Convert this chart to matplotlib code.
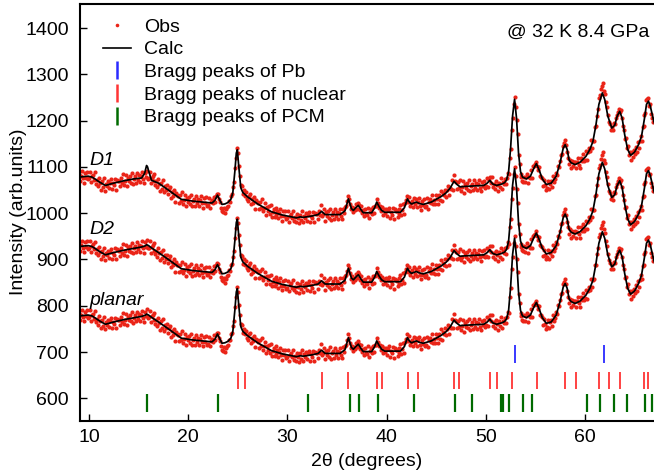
import numpy as np
import matplotlib
matplotlib.use("Agg")
import matplotlib.pyplot as plt
from matplotlib.lines import Line2D

plt.rcParams['font.family'] = ['Liberation Sans', 'DejaVu Sans']
plt.rcParams['font.size'] = 14

# ---------------- data ----------------
# observed pattern (same data for all three models, shown with vertical offsets)
obs_start = 9.0
obs_step = 0.1
obs = [
    784, 769, 781, 791, 775, 766, 787, 777, 790, 773,
    775, 790, 767, 780, 783, 772, 788, 764, 772, 759,
    777, 766, 751, 769, 757, 775, 749, 764, 759, 769,
    754, 766, 773, 752, 765, 760, 774, 751, 772, 770,
    769, 758, 775, 765, 784, 760, 769, 782, 758, 776,
    769, 780, 766, 786, 763, 774, 780, 766, 787, 772,
    782, 767, 780, 789, 774, 765, 787, 778, 792, 774,
    775, 789, 765, 777, 781, 769, 785, 761, 769, 756,
    774, 763, 748, 766, 753, 771, 745, 759, 751, 760,
    742, 752, 757, 733, 745, 737, 750, 724, 744, 739,
    737, 723, 739, 726, 745, 720, 728, 740, 715, 733,
    725, 735, 720, 740, 715, 726, 731, 716, 737, 721,
    731, 716, 728, 737, 721, 712, 732, 722, 734, 716,
    718, 733, 712, 724, 728, 721, 736, 725, 737, 742,
    741, 730, 724, 712, 705, 703, 711, 700, 708, 714,
    716, 727, 725, 738, 741, 756, 768, 797, 819, 840,
    829, 802, 781, 760, 758, 741, 750, 738, 746, 731,
    727, 738, 742, 719, 730, 723, 735, 710, 729, 725,
    722, 709, 725, 712, 730, 705, 712, 722, 697, 714,
    705, 715, 698, 717, 692, 702, 708, 692, 712, 696,
    705, 689, 701, 709, 693, 683, 704, 693, 705, 687,
    689, 704, 681, 694, 699, 689, 705, 683, 691, 680,
    699, 690, 678, 697, 686, 704, 680, 695, 690, 700,
    684, 697, 703, 681, 695, 689, 703, 680, 701, 699,
    699, 687, 704, 697, 717, 694, 699, 709, 684, 702,
    694, 705, 690, 710, 686, 697, 703, 688, 709, 693,
    703, 688, 700, 709, 694, 687, 710, 701, 714, 716,
    726, 738, 731, 720, 708, 714, 702, 711, 706, 719,
    710, 723, 718, 706, 715, 700, 706, 693, 708, 699,
    696, 712, 689, 703, 708, 698, 714, 700, 715, 716,
    731, 722, 712, 716, 705, 713, 697, 708, 700, 709,
    694, 706, 712, 690, 703, 697, 711, 687, 708, 705,
    704, 692, 709, 698, 717, 696, 706, 720, 699, 722,
    729, 738, 724, 734, 716, 722, 727, 713, 733, 719,
    730, 714, 725, 733, 716, 707, 727, 717, 730, 713,
    716, 733, 710, 725, 731, 721, 740, 720, 729, 719,
    739, 730, 719, 739, 729, 749, 727, 743, 739, 751,
    736, 750, 759, 739, 755, 753, 771, 751, 782, 770,
    767, 752, 767, 754, 772, 748, 756, 769, 744, 763,
    755, 766, 751, 771, 747, 758, 764, 750, 771, 755,
    765, 750, 762, 771, 755, 747, 768, 758, 770, 755,
    758, 775, 756, 771, 779, 766, 779, 756, 764, 752,
    769, 760, 747, 766, 756, 775, 752, 768, 763, 774,
    762, 776, 787, 784, 820, 838, 880, 905, 935, 950,
    930, 902, 872, 826, 806, 784, 778, 770, 768, 779,
    767, 778, 785, 765, 779, 775, 794, 775, 801, 802,
    806, 811, 801, 793, 799, 781, 779, 776, 758, 771,
    760, 750, 755, 770, 752, 764, 769, 757, 781, 768,
    774, 787, 783, 801, 799, 812, 826, 828, 846, 852,
    858, 847, 832, 820, 806, 815, 797, 812, 801, 810,
    811, 797, 810, 820, 805, 797, 820, 812, 827, 812,
    816, 834, 815, 832, 841, 835, 858, 841, 856, 857,
    887, 889, 911, 925, 948, 955, 968, 975, 982, 965,
    958, 940, 929, 912, 898, 893, 880, 887, 879, 895,
    893, 906, 912, 919, 925, 918, 922, 906, 889, 879,
    861, 863, 840, 846, 826, 832, 815, 832, 822, 837,
    827, 844, 832, 853, 841, 856, 866, 857, 886, 888,
    912, 917, 944, 946, 948, 932, 935, 915, 906, 897,
]

# calculated profiles (nodes)
calc_x = [
    9.0, 9.5, 9.9, 10.3, 10.6, 11.0, 11.65, 12.5, 13.5, 14.5,
    15.3, 15.6, 15.7, 15.8, 15.9, 16.0, 16.3, 17.0, 18.0, 19.3,
    20.5, 21.5, 22.4, 22.7, 22.95, 23.2, 23.4, 23.7, 24.0, 24.3,
    24.5, 24.7, 24.85, 24.95, 25.1, 25.3, 25.5, 26.0, 27.0, 28.4,
    29.5, 30.9, 31.3, 31.6, 32.5, 33.1, 33.45, 33.8, 35.3, 35.8,
    36.15, 36.45, 36.65, 36.9, 37.15, 37.4, 37.65, 38.5, 38.8, 39.0,
    39.25, 39.5, 39.8, 41.4, 41.8, 42.1, 42.3, 42.5, 43.0, 43.3,
    43.7, 44.5, 45.0, 45.5, 46.0, 46.4, 46.8, 47.1, 47.4, 48.0,
    49.0, 49.8, 50.15, 50.4, 50.7, 51.1, 51.6, 51.9, 52.1, 52.3,
    52.5, 52.7, 52.9, 53.1, 53.3, 53.5, 53.7, 54.1, 54.5, 54.8,
    55.1, 55.4, 55.7, 56.1, 56.6, 57.1, 57.5, 57.8, 58.0, 58.2,
    58.4, 58.6, 59.0, 59.5, 60.1, 60.5, 60.8, 61.1, 61.4, 61.75,
    62.0, 62.3, 62.7, 63.0, 63.25, 63.5, 63.75, 64.0, 64.3, 64.6,
    65.0, 65.4, 65.7, 66.0, 66.2, 66.4, 66.6, 66.9, 67.2,
]
calc_D2 = [
    778, 779, 780, 778, 774, 768, 760, 765, 770, 774,
    777, 779, 780, 782, 781, 780, 775, 765, 750, 730,
    726, 724, 722, 728, 739, 728, 719, 720, 723, 730,
    745, 790, 830, 837, 800, 755, 745, 735, 720, 703,
    696, 690, 692, 691, 694, 697, 704, 697, 697, 705,
    731, 710, 706, 712, 717, 708, 701, 701, 712, 724,
    714, 706, 702, 702, 712, 731, 724, 720, 724, 721,
    719, 724, 730, 736, 744, 754, 769, 762, 757, 758,
    759, 760, 765, 771, 763, 760, 763, 766, 772, 790,
    840, 910, 946, 905, 830, 790, 778, 774, 780, 795,
    807, 792, 774, 762, 765, 780, 810, 840, 848, 838,
    815, 809, 805, 810, 823, 838, 855, 890, 935, 960,
    945, 910, 884, 890, 910, 920, 905, 870, 838, 825,
    832, 848, 866, 905, 935, 942, 930, 902, 880,
]
calc_D1 = [
    778, 779, 780, 778, 774, 768, 760, 765, 770, 774,
    776, 786, 795, 803, 800, 792, 771, 765, 750, 730,
    726, 724, 722, 728, 739, 728, 719, 720, 723, 730,
    745, 790, 830, 837, 800, 755, 745, 735, 720, 703,
    696, 690, 692, 691, 694, 697, 704, 697, 697, 705,
    731, 710, 706, 712, 717, 708, 701, 701, 712, 724,
    714, 706, 702, 702, 712, 731, 724, 720, 724, 721,
    719, 724, 730, 736, 744, 754, 769, 762, 757, 758,
    759, 760, 765, 771, 763, 760, 763, 766, 772, 790,
    840, 910, 946, 905, 830, 790, 778, 774, 780, 795,
    807, 792, 774, 762, 765, 780, 810, 840, 848, 838,
    815, 809, 805, 810, 823, 838, 855, 890, 935, 960,
    945, 910, 884, 890, 910, 920, 905, 870, 838, 825,
    832, 848, 866, 905, 935, 942, 930, 902, 880,
]
calc_planar = calc_D2

models = ['D1', 'D2', 'planar']
offsets = [300, 150, 0]
label_y = [1104, 954, 801]

pb_peaks = [52.9, 61.88]
nuclear_peaks = [25.02, 25.69, 33.45, 36.1, 39.0, 39.57, 42.16, 43.13, 46.8, 47.3,
                 50.42, 51.1, 52.68, 55.16, 57.98, 59.1, 61.38, 62.39, 63.56, 65.98, 66.4]
pcm_peaks = [15.85, 22.97, 32.04, 36.28, 37.18, 39.1, 42.76, 46.93, 48.58, 51.56,
             51.72, 52.34, 53.75, 54.62, 60.17, 61.51, 62.92, 64.2, 66.05, 66.8]

legend_labels = ['Obs', 'Calc', 'Bragg peaks of Pb', 'Bragg peaks of nuclear', 'Bragg peaks of PCM']

# ---------------- style ----------------
RED = '#ea2418'
BLUE = '#2a2aff'
NRED = '#ff3434'
GREEN = '#006a00'

fig = plt.figure(figsize=(6.54, 4.75), dpi=100)
ax = fig.add_axes([80 / 654, 54 / 475, 576 / 654, 417 / 475])

obs_x = obs_start + obs_step * np.arange(len(obs))
obs_arr = np.array(obs, dtype=float)
calcs = [calc_D1, calc_D2, calc_planar]

for name, off, calc, ly in zip(models, offsets, calcs, label_y):
    ax.plot(obs_x, obs_arr + off, ls='none', marker='o', ms=3.0, mec='none',
            color=RED, zorder=2)
    ax.plot(calc_x, np.array(calc, dtype=float) + off, color='black', lw=1.25, zorder=3)
    ax.text(10.05, ly, name, fontstyle='italic', fontsize=14, ha='left', va='baseline')

ax.vlines(pb_peaks, 676, 715, color=BLUE, lw=1.3)
ax.vlines(nuclear_peaks, 620, 657, color=NRED, lw=1.3)
ax.vlines(pcm_peaks, 570, 609, color=GREEN, lw=1.6)

ax.set_xlim(9.09, 67.16)
ax.set_ylim(551, 1452)
ax.set_xticks([10, 20, 30, 40, 50, 60])
ax.set_yticks(np.arange(600, 1401, 100))
ax.tick_params(direction='in', length=5, width=1, top=False, right=False)
ax.tick_params(axis='y', pad=8)
ax.tick_params(axis='x', pad=6)
for sp in ax.spines.values():
    sp.set_linewidth(1.5)

fig.text(19 / 654, 1 - 212 / 475, 'Intensity (arb.units)', rotation=90,
         ha='center', va='center', fontsize=14)
fig.text(367 / 654, 1 - 462 / 475, '2θ (degrees)', ha='center', va='center', fontsize=14)

ax.text(0.988, 0.921, '@ 32 K 8.4 GPa', transform=ax.transAxes, ha='right',
        va='baseline', fontsize=14)

handles = [
    Line2D([], [], ls='none', marker='o', ms=2.6, mec='none', color=RED),
    Line2D([], [], color='black', lw=1.2),
    Line2D([], [], ls='none', marker='|', ms=13, mew=1.8, color=BLUE),
    Line2D([], [], ls='none', marker='|', ms=13, mew=1.8, color=NRED),
    Line2D([], [], ls='none', marker='|', ms=13, mew=1.8, color=GREEN),
]
ax.legend(handles, legend_labels, loc='upper left', bbox_to_anchor=(0.04, 0.966),
          frameon=False, handlelength=1.45, handletextpad=0.65, labelspacing=0.26,
          borderaxespad=0, borderpad=0, fontsize=14)

fig.savefig('out.png', dpi=100)
